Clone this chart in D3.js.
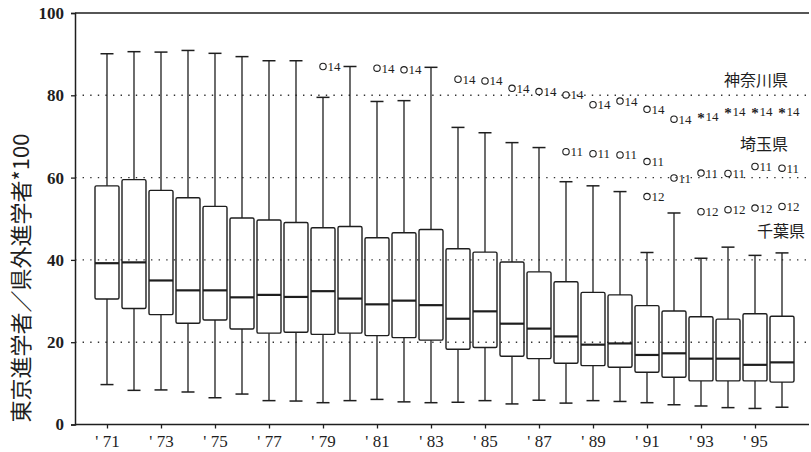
<!DOCTYPE html>
<html>
<head>
<meta charset="utf-8">
<script src="https://cdn.jsdelivr.net/npm/d3@7"></script>
<style>
  body { margin: 0; background: #fff; }
  svg { display: block; }
</style>
</head>
<body>
<div id="chart"></div>
<script>
// boxplot values (ratio *100)
var years      = [1971,1972,1973,1974,1975,1976,1977,1978,1979,1980,1981,1982,1983,1984,1985,1986,1987,1988,1989,1990,1991,1992,1993,1994,1995,1996];
var whiskerHi  = [90.1,90.6,90.5,90.9,90.2,89.4,88.4,88.4,79.5,87.0,78.5,78.7,86.8,72.2,70.9,68.5,67.3,59.0,58.0,56.6,41.8,51.4,40.4,43.1,41.1,41.7];
var q3         = [58.0,59.5,56.9,55.1,53.0,50.2,49.7,49.1,47.8,48.1,45.4,46.6,47.4,42.7,41.9,39.5,37.1,34.7,32.1,31.5,28.9,27.6,26.2,25.6,26.9,26.3];
var medians    = [39.2,39.4,35.0,32.6,32.6,30.9,31.5,31.0,32.4,30.6,29.2,30.1,29.0,25.7,27.5,24.5,23.3,21.4,19.4,19.7,16.9,17.3,16.0,16.0,14.5,15.1];
var q1         = [30.5,28.2,26.7,24.6,25.4,23.2,22.2,22.4,21.9,22.2,21.6,21.1,20.5,18.3,18.7,16.6,16.0,14.9,14.3,13.9,12.7,11.5,10.6,10.6,10.6,10.3];
var whiskerLo  = [9.7,8.3,8.4,7.9,6.5,7.4,5.8,5.7,5.3,5.8,6.1,5.5,5.3,5.4,5.8,5.0,5.9,5.2,5.8,5.6,5.3,4.8,4.5,4.1,3.9,4.2];

// outliers: [year, value]
var out14     = [[1979,87.0],[1981,86.6],[1982,86.2],[1984,83.9],[1985,83.5],[1986,81.7],[1987,80.9],[1988,80.1],[1989,77.7],[1990,78.6],[1991,76.6],[1992,74.2]];
var extreme14 = [[1993,74.8],[1994,76.0],[1995,76.0],[1996,76.0]];
var out11     = [[1988,66.3],[1989,65.8],[1990,65.5],[1991,63.9],[1992,59.9],[1993,61.1],[1994,61.0],[1995,62.7],[1996,62.3]];
var out12     = [[1991,55.4],[1993,51.7],[1994,52.2],[1995,52.6],[1996,53.0]];

var yTicks = [0,20,40,60,80,100];
var gridValues = [20,40,60,80];
var xTickYears = [1971,1973,1975,1977,1979,1981,1983,1985,1987,1989,1991,1993,1995];
var prefLabels = [{name:"神奈川県", v:82.3, x:788}, {name:"埼玉県", v:66.6, x:788}, {name:"千葉県", v:45.6, x:805}];

var W = 811, H = 452;
var mLeft = 75, mRight = 809, mTop = 13, mBottom = 424.5;

var svg = d3.select("#chart").append("svg")
  .attr("width", W).attr("height", H);

var x = d3.scaleLinear().domain([1969.815, 1997]).range([mLeft, mRight]);
var y = d3.scaleLinear().domain([0, 100]).range([mBottom, mTop]);

var ink = "#1e1e1e";
var serif = "'Liberation Serif', 'DejaVu Serif', serif";
var jp = "'Noto Sans CJK JP', sans-serif";

// dotted grid
svg.append("g").selectAll("line")
  .data(gridValues).enter().append("line")
    .attr("x1", mLeft).attr("x2", mRight)
    .attr("y1", function(d){ return y(d); }).attr("y2", function(d){ return y(d); })
    .style("stroke", "#333").style("stroke-width", 1.4)
    .style("stroke-dasharray", "1.4,6.2");

// top border
svg.append("line")
  .attr("x1", mLeft).attr("x2", mRight).attr("y1", y(100)).attr("y2", y(100))
  .style("stroke", ink).style("stroke-width", 1.3);

// y axis
var yAxis = svg.append("g")
  .attr("transform", "translate(" + mLeft + ",0)")
  .call(d3.axisLeft(y).tickValues(yTicks).tickSize(4).tickPadding(7));
yAxis.select(".domain").style("stroke", ink).style("stroke-width", 1.5);
yAxis.selectAll("line").style("stroke", ink).style("stroke-width", 1.3);
yAxis.selectAll("text").style("font-family", serif).style("font-size", "17px")
  .style("font-weight", "bold").style("fill", ink);

// x axis
var xAxis = svg.append("g")
  .attr("transform", "translate(0," + mBottom + ")")
  .call(d3.axisBottom(x).tickValues(xTickYears).tickSize(4).tickPadding(6)
    .tickFormat(function(d){ return "' " + String(d).slice(2); }));
xAxis.select(".domain").attr("d", "M" + mLeft + ",0H" + mRight)
  .style("stroke", ink).style("stroke-width", 1.5);
xAxis.selectAll("line").style("stroke", ink).style("stroke-width", 1.3);
xAxis.selectAll("text").style("font-family", serif).style("font-size", "17px")
  .style("fill", ink);

// boxes
var boxW = 24, capW = 13;
var rows = years.map(function(yr, i){
  return {year: yr, hi: whiskerHi[i], q3: q3[i], med: medians[i], q1: q1[i], lo: whiskerLo[i]};
});

var g = svg.append("g").selectAll("g").data(rows).enter().append("g");

g.append("line") // upper whisker
  .attr("x1", function(d){ return x(d.year); }).attr("x2", function(d){ return x(d.year); })
  .attr("y1", function(d){ return y(d.hi); }).attr("y2", function(d){ return y(d.q3); })
  .style("stroke", ink).style("stroke-width", 1.3);
g.append("line") // lower whisker
  .attr("x1", function(d){ return x(d.year); }).attr("x2", function(d){ return x(d.year); })
  .attr("y1", function(d){ return y(d.q1); }).attr("y2", function(d){ return y(d.lo); })
  .style("stroke", ink).style("stroke-width", 1.3);
g.append("line") // top cap
  .attr("x1", function(d){ return x(d.year) - capW/2; }).attr("x2", function(d){ return x(d.year) + capW/2; })
  .attr("y1", function(d){ return y(d.hi); }).attr("y2", function(d){ return y(d.hi); })
  .style("stroke", ink).style("stroke-width", 1.5);
g.append("line") // bottom cap
  .attr("x1", function(d){ return x(d.year) - capW/2; }).attr("x2", function(d){ return x(d.year) + capW/2; })
  .attr("y1", function(d){ return y(d.lo); }).attr("y2", function(d){ return y(d.lo); })
  .style("stroke", ink).style("stroke-width", 1.5);
g.append("rect")
  .attr("x", function(d){ return x(d.year) - boxW/2; })
  .attr("y", function(d){ return y(d.q3); })
  .attr("width", boxW)
  .attr("height", function(d){ return y(d.q1) - y(d.q3); })
  .attr("rx", 1.5)
  .style("fill", "none").style("stroke", ink).style("stroke-width", 1.4);
g.append("line") // median
  .attr("x1", function(d){ return x(d.year) - boxW/2; }).attr("x2", function(d){ return x(d.year) + boxW/2; })
  .attr("y1", function(d){ return y(d.med); }).attr("y2", function(d){ return y(d.med); })
  .style("stroke", ink).style("stroke-width", 2.2);

// outliers
function drawOutliers(data, label, star){
  var og = svg.append("g").selectAll("g").data(data).enter().append("g")
    .attr("transform", function(d){ return "translate(" + x(d[0]) + "," + y(d[1]) + ")"; });
  if (star) {
    og.append("text").attr("x", 0).attr("y", 6).attr("text-anchor", "middle")
      .style("font-family", serif).style("font-size", "15px").style("font-weight", "bold")
      .style("fill", ink).text("*");
  } else {
    og.append("circle").attr("r", 3.2)
      .style("fill", "none").style("stroke", ink).style("stroke-width", 1.1);
  }
  og.append("text").attr("x", 4.5).attr("y", 4.5)
    .style("font-family", serif).style("font-size", "13px").style("fill", ink)
    .text(label);
}
drawOutliers(out14, "14", false);
drawOutliers(extreme14, "14", true);
drawOutliers(out11, "11", false);
drawOutliers(out12, "12", false);

// prefecture labels
svg.append("g").selectAll("text").data(prefLabels).enter().append("text")
  .attr("x", function(d){ return d.x; })
  .attr("y", function(d){ return y(d.v); })
  .attr("text-anchor", "end")
  .style("font-family", jp).style("font-size", "16px").style("fill", ink)
  .text(function(d){ return d.name; });

// y title
svg.append("text")
  .attr("transform", "translate(29," + 278 + ") rotate(-90)")
  .attr("text-anchor", "middle")
  .style("font-family", jp).style("font-size", "22px").style("fill", ink)
  .text("東京進学者／県外進学者*100");
</script>
</body>
</html>
